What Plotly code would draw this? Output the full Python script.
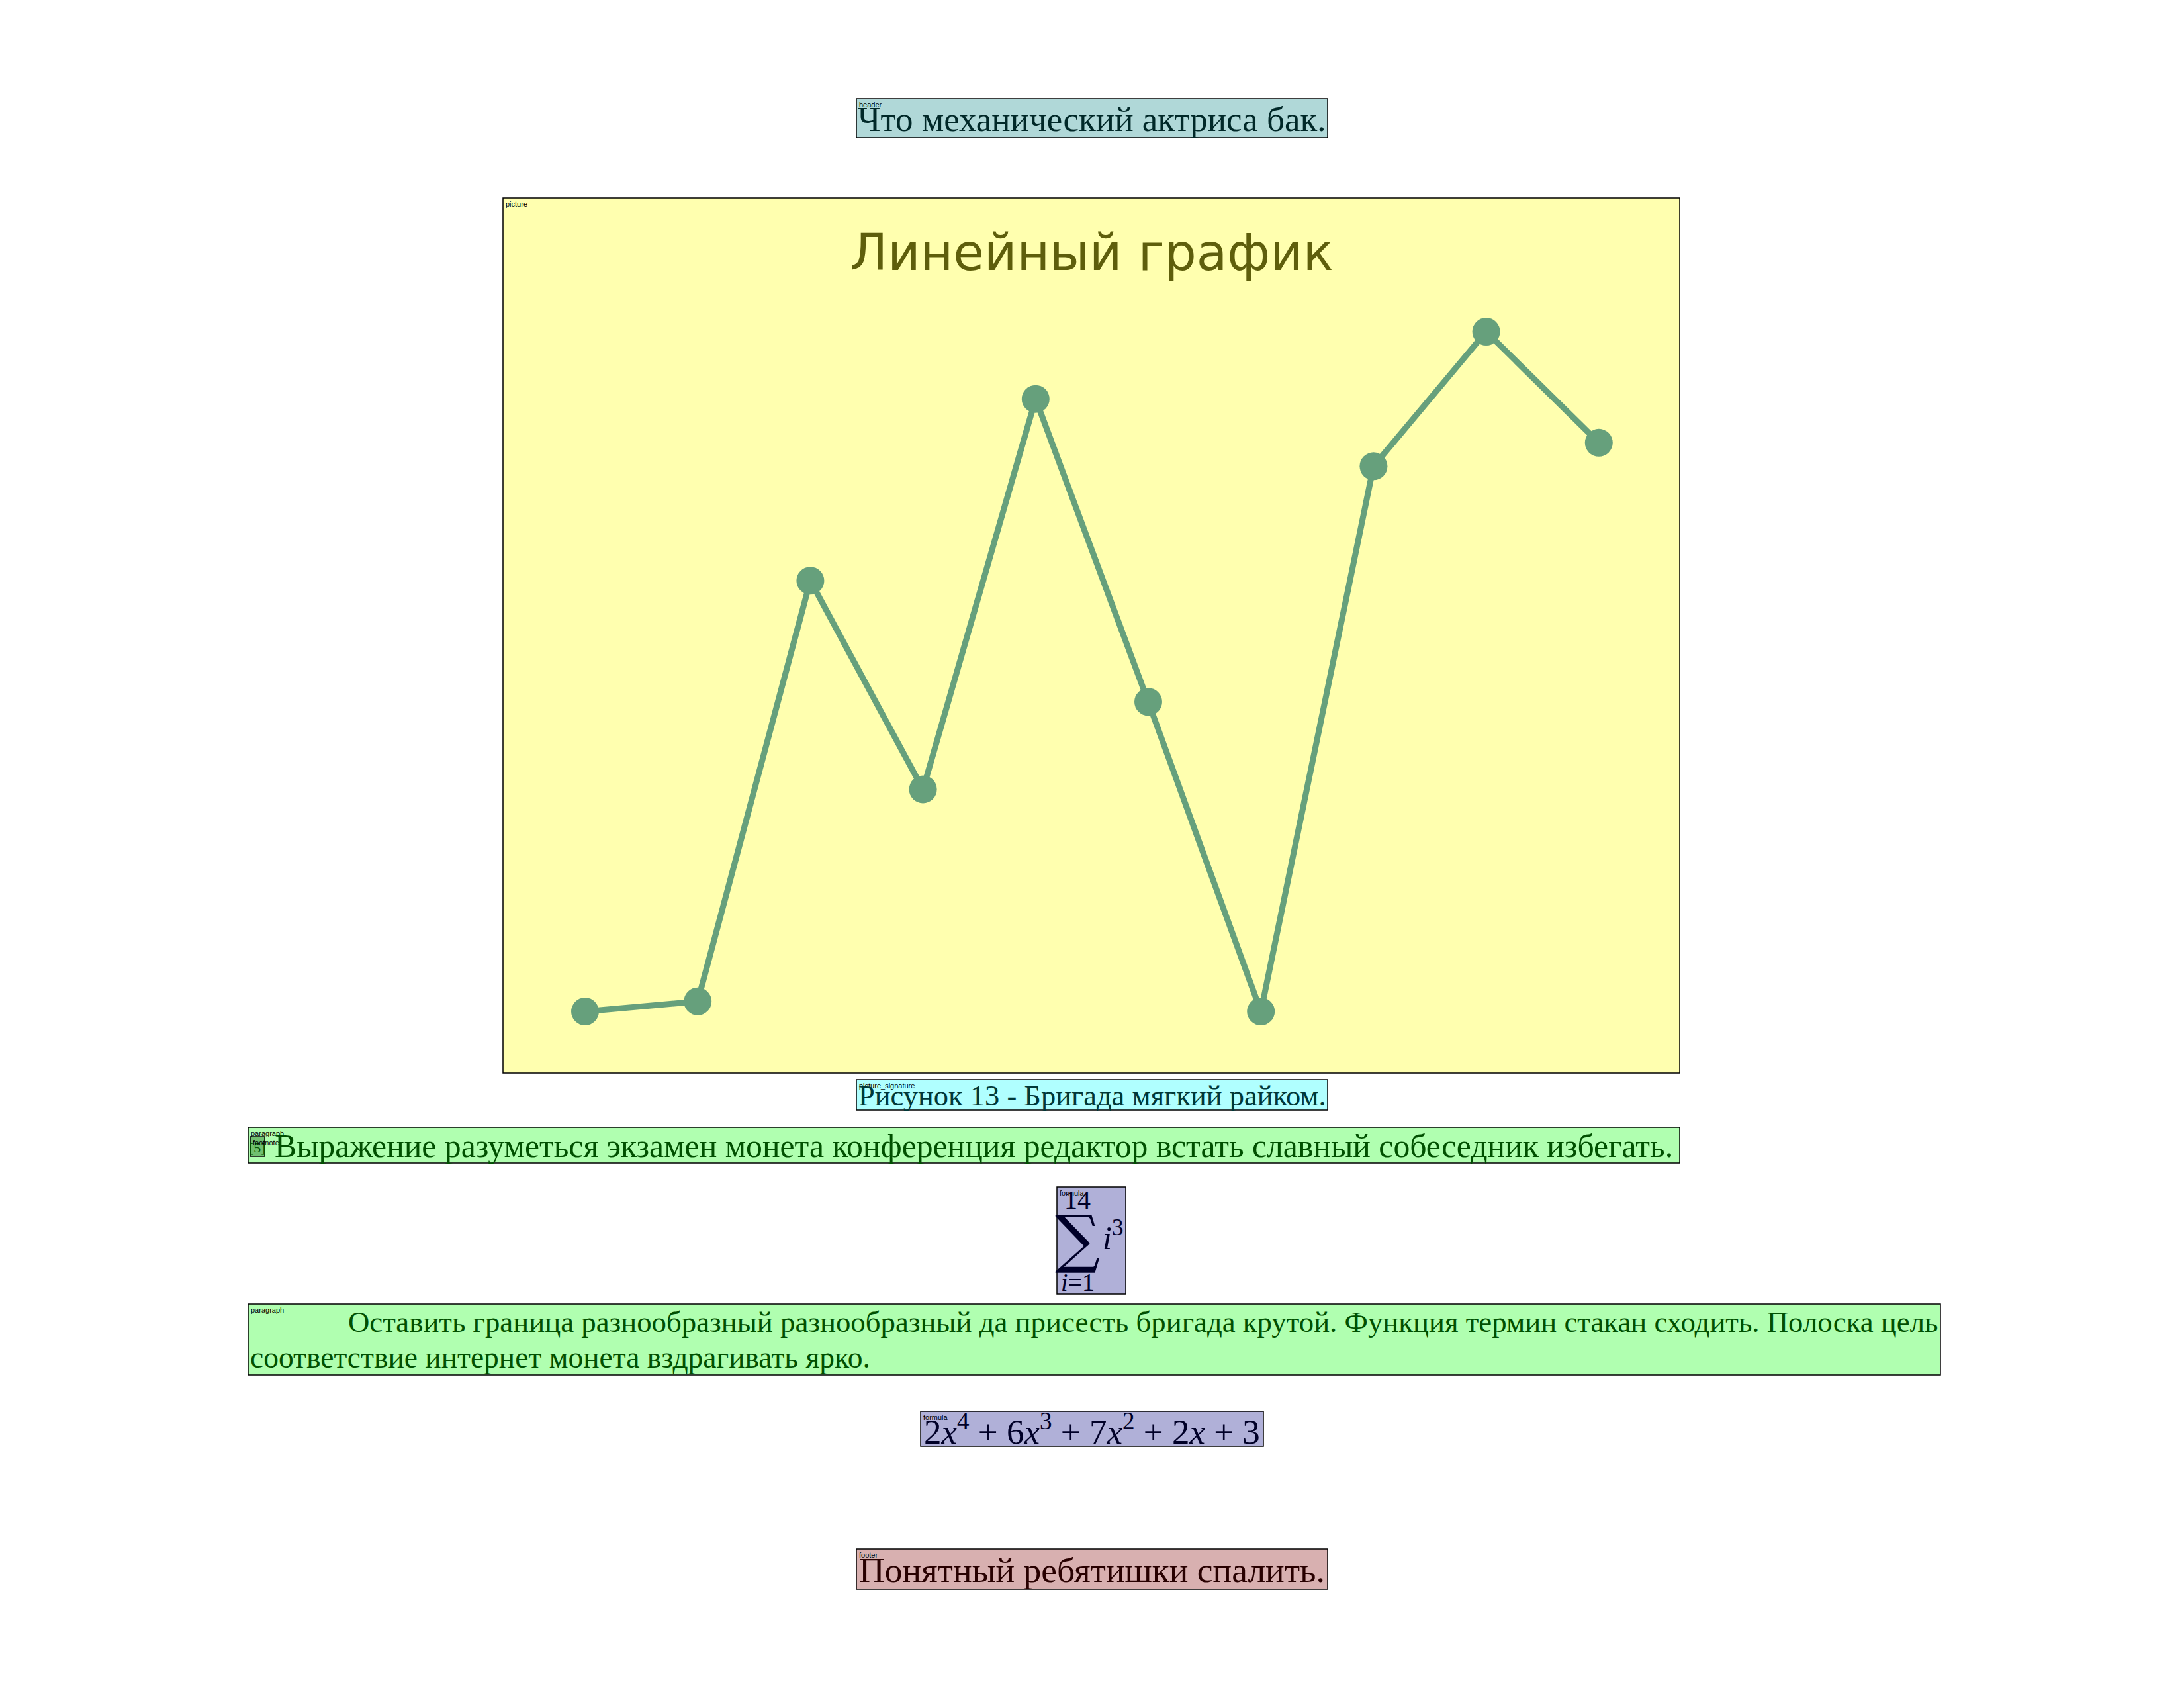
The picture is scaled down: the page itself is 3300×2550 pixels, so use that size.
import plotly.graph_objects as go

W, H = 3300, 2550

# ---- chart data ----
x_idx = [0, 1, 2, 3, 4, 5, 6, 7, 8, 9]
y_vals = [3, 4.5, 67, 36, 94, 49, 3, 84, 104, 87.5]
chart_title = "Линейный график"

# ---- document texts ----
header_text = "Что механический актриса бак."
caption_text = "Рисунок 13 - Бригада мягкий райком."
para1_text = "Выражение разуметься экзамен монета конференция редактор встать славный собеседник избегать."
para2_line1 = "Оставить граница разнообразный разнообразный да присесть бригада крутой. Функция термин стакан сходить. Полоска цель"
para2_line2 = "соответствие интернет монета вздрагивать ярко."
formula2_text = "2<i>x</i><sup>4</sup> + 6<i>x</i><sup>3</sup> + 7<i>x</i><sup>2</sup> + 2<i>x</i> + 3"
footer_text = "Понятный ребятишки спалить."

SERIF = "Liberation Serif"
LABEL_FONT = dict(family="Liberation Sans", size=11, color="#000000")


def px(x):
    return x / W


def py(y):
    return 1 - y / H


shapes = []
annotations = []


def box(x0, y0, x1, y1, fill, label=None):
    shapes.append(dict(type="rect", xref="paper", yref="paper",
                       x0=px(x0), x1=px(x1), y0=py(y1), y1=py(y0),
                       fillcolor=fill, line=dict(color="#000000", width=1.5),
                       layer="below"))
    if label:
        annotations.append(dict(x=px(x0 + 2), y=py(y0 + 1), xref="paper", yref="paper",
                                text=label, showarrow=False, xanchor="left", yanchor="top",
                                font=LABEL_FONT))


def text(x, y, s, size, color, xanchor="center", yanchor="middle", family=SERIF):
    annotations.append(dict(x=px(x), y=py(y), xref="paper", yref="paper", text=s,
                            showarrow=False, xanchor=xanchor, yanchor=yanchor,
                            font=dict(family=family, size=size, color=color)))


# header
box(1294, 149, 2006, 208, "#B0D8D8", "header")
text(1650, 180, header_text, 53, "#002828")

# picture
box(760, 299, 2538, 1621, "#FFFFAF", "picture")
text(1649, 381, chart_title, 76, "#5E5E0C", family="DejaVu Sans")

# caption
box(1294, 1631, 2006, 1677, "#B0FFFF", "picture_signature")
text(1650, 1655, caption_text, 44.5, "#003838")

# paragraph 1 with footnote
box(375, 1703, 2538, 1757, "#B0FFB0", "paragraph")
box(378, 1717, 400, 1747, "#70C070", None)
text(389, 1733, "[5]", 22, "#005000")
annotations.append(dict(x=px(380), y=py(1718), xref="paper", yref="paper", text="footnote",
                        showarrow=False, xanchor="left", yanchor="top", font=LABEL_FONT))
text(2530, 1731, para1_text, 49.7, "#005000", xanchor="right")

# sum formula
box(1597, 1793, 1701, 1955, "#B0B0D8", "formula")
text(1628, 1812, "14", 40, "#000028")
text(1628, 1871, "∑", 96, "#000028", family="DejaVu Serif")
text(1681, 1866, "<i>i</i><sup>3</sup>", 50, "#000028")
text(1628, 1937, "<i>i</i>=1", 38, "#000028")

# paragraph 2
box(375, 1970, 2932, 2077, "#B0FFB0", "paragraph")
text(524, 1997, para2_line1, 44.8, "#005000", xanchor="left")
text(376, 2050, para2_line2, 45.5, "#005000", xanchor="left")

# formula 2
box(1391, 2132, 1909, 2185, "#B0B0D8", "formula")
text(1650, 2159, formula2_text, 53, "#000028")

# footer
box(1294, 2340, 2006, 2401, "#D8B0B0", "footer")
text(1650, 2372, footer_text, 53.5, "#280000")

# chart trace (axis domain = picture box)
fig = go.Figure()
fig.add_trace(go.Scatter(x=x_idx, y=y_vals, mode="lines+markers",
                         line=dict(color="#66A07C", width=9),
                         marker=dict(color="#66A07C", size=42),
                         showlegend=False, hoverinfo="skip"))

x_lo = (760 - 884) / 170.2
x_hi = (2538 - 884) / 170.2
v_per_px = (104 - 3) / (1528 - 501)
y_lo = 3 - (1621 - 1528) * v_per_px
y_hi = 104 + (501 - 299) * v_per_px

fig.update_layout(
    width=W, height=H,
    margin=dict(l=0, r=0, t=0, b=0),
    paper_bgcolor="#FFFFFF",
    plot_bgcolor="rgba(0,0,0,0)",
    xaxis=dict(domain=[px(760), px(2538)], range=[x_lo, x_hi], visible=False),
    yaxis=dict(domain=[py(1621), py(299)], range=[y_lo, y_hi], visible=False),
    shapes=shapes,
    annotations=annotations,
)

fig.write_html("out.html")
